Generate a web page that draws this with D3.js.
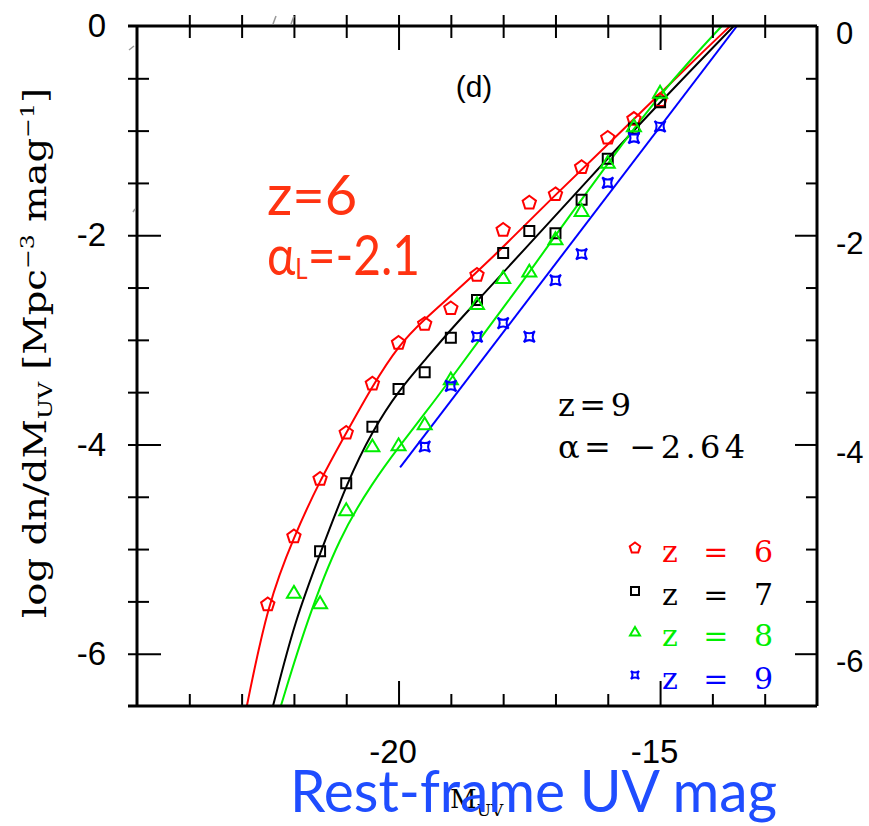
<!DOCTYPE html>
<html>
<head>
<meta charset="utf-8">
<script src="https://cdn.jsdelivr.net/npm/d3@7"></script>
<style>
body { margin: 0; background: #fff; }
svg { display: block; }
</style>
</head>
<body>
<div id="chart"></div>
<script>
// observed points: M_UV and log dn/dM_UV
var mag6 = [-22.5,-22,-21.5,-21,-20.5,-20,-19.5,-19,-18.5,-18,-17.5,-17,-16.5,-16,-15.5,-15];
var phi6 = [-5.53,-4.88,-4.33,-3.89,-3.42,-3.03,-2.85,-2.70,-2.38,-1.95,-1.69,-1.61,-1.35,-1.07,-0.89,-0.71];
var mag7 = [-21.5,-21,-20.5,-20,-19.5,-19,-18.5,-18,-17.5,-17,-16.5,-16,-15.5,-15];
var phi7 = [-5.02,-4.37,-3.83,-3.47,-3.31,-2.98,-2.62,-2.17,-1.96,-1.98,-1.66,-1.27,-0.98,-0.73];
var mag8 = [-22,-21.5,-21,-20.5,-20,-19.5,-19,-18.5,-18,-17.5,-17,-16.5,-16,-15.5,-15];
var phi8 = [-5.42,-5.52,-4.63,-4.02,-4.01,-3.81,-3.38,-2.66,-2.41,-2.35,-2.04,-1.77,-1.31,-0.96,-0.64];
var mag9 = [-19.5,-19,-18.5,-18,-17.5,-17,-16.5,-16,-15.5,-15];
var phi9 = [-4.02,-3.44,-2.97,-2.84,-2.97,-2.43,-2.18,-1.50,-1.07,-0.96];

// fitted curves
var fit6 = [[-22.9,-6.5],[-22.5,-5.52],[-22.0,-4.88],[-21.5,-4.34],[-21.0,-3.89],[-20.5,-3.44],[-20.0,-3.05],[-19.5,-2.80],[-19.0,-2.58],[-18.25,-2.24],[-17.0,-1.61],[-15.7,-0.99],[-14.4,-0.35],[-13.66,0]];
var fit7 = [[-22.4,-6.5],[-21.98,-5.68],[-21.48,-5.02],[-20.99,-4.37],[-20.49,-3.86],[-19.99,-3.48],[-19.49,-3.19],[-18.98,-2.89],[-18.5,-2.63],[-17.62,-2.15],[-16.34,-1.45],[-15.06,-0.76],[-13.59,0]];
var fit8 = [[-22.25,-6.5],[-21.75,-5.68],[-21.12,-4.87],[-20.49,-4.36],[-19.99,-4.02],[-19.49,-3.70],[-18.98,-3.36],[-18.44,-2.99],[-17.62,-2.44],[-16.97,-1.98],[-16.34,-1.55],[-15.67,-1.09],[-15.0,-0.66],[-14.43,-0.33],[-13.82,0]];
var fit9 = [[-19.97,-4.22],[-13.53,0]];

var redshifts = ["6", "7", "8", "9"];
var colors = ["#ff0000", "#000000", "#00ee00", "#0000ff"];
var shapes = ["pentagon", "square", "triangle", "star"];

// ticks
var yLabels = [0, -2, -4, -6];
var xLabels = [-20, -15];
var yMinor = d3.range(-6, 0, 0.5).filter(function(d){ return yLabels.indexOf(d) < 0; });
var xMinor = d3.range(-24, -12).filter(function(d){ return xLabels.indexOf(d) < 0; });

var width = 869, height = 826;

var svg = d3.select("#chart").append("svg")
    .attr("width", width)
    .attr("height", height);

var x = d3.scaleLinear().domain([-25, -12]).range([137, 817]);
var y = d3.scaleLinear().domain([-6.5, 0]).range([706, 26]);

// marker shapes
function shapePath(kind, r) {
  if (kind == "pentagon") {
    var pts = d3.range(5).map(function(i){
      var a = -Math.PI / 2 + i * 2 * Math.PI / 5;
      return [r * Math.cos(a), r * Math.sin(a)];
    });
    return "M" + pts.join("L") + "Z";
  }
  if (kind == "square") {
    return "M" + (-r) + "," + (-r) + "H" + r + "V" + r + "H" + (-r) + "Z";
  }
  if (kind == "triangle") {
    var h = r * 1.7;
    return "M0," + (-h * 0.6) + "L" + r + "," + (h * 0.4) + "L" + (-r) + "," + (h * 0.4) + "Z";
  }
  // concave four-corner star
  var c = r * 0.25;
  return "M" + (-r) + "," + (-r) + "Q0," + (-c) + " " + r + "," + (-r) +
         "Q" + c + ",0 " + r + "," + r +
         "Q0," + c + " " + (-r) + "," + r +
         "Q" + (-c) + ",0 " + (-r) + "," + (-r) + "Z";
}

// clip
svg.append("clipPath").attr("id", "plotclip")
  .append("rect")
    .attr("x", x(-25)).attr("y", y(0))
    .attr("width", x(-12) - x(-25))
    .attr("height", y(-6.5) - y(0));

var line = d3.line()
    .x(function(d){ return x(d[0]); })
    .y(function(d){ return y(d[1]); })
    .curve(d3.curveBasis);

var plot = svg.append("g").attr("clip-path", "url(#plotclip)");

[fit6, fit7, fit8, fit9].forEach(function(f, i){
  plot.append("path")
    .attr("d", line(f))
    .style("fill", "none")
    .style("stroke", colors[i])
    .style("stroke-width", 2);
});

// data points
var sets = [[mag6, phi6], [mag7, phi7], [mag8, phi8], [mag9, phi9]];
var sizes = [7, 5, 7, 5.5];
sets.forEach(function(s, i){
  plot.selectAll(".pt" + i)
    .data(s[0])
    .enter().append("path")
      .attr("class", "pt" + i)
      .attr("d", shapePath(shapes[i], sizes[i]))
      .attr("transform", function(d, j){ return "translate(" + x(d) + "," + y(s[1][j]) + ")"; })
      .style("fill", "none")
      .style("stroke", colors[i])
      .style("stroke-width", 2);
});

// frame
var frame = svg.append("g").style("stroke", "#000").style("stroke-width", 3);
frame.append("line").attr("x1", 128).attr("x2", x(-12)).attr("y1", y(0)).attr("y2", y(0));
frame.append("line").attr("x1", 128).attr("x2", x(-12)).attr("y1", y(-6.5)).attr("y2", y(-6.5));
frame.append("line").attr("x1", x(-25)).attr("x2", x(-25)).attr("y1", y(0)).attr("y2", y(-6.5));
frame.append("line").attr("x1", x(-12)).attr("x2", x(-12)).attr("y1", y(0)).attr("y2", y(-6.5));

function ticks(g) {
  g.select(".domain").remove();
  g.selectAll(".tick line").style("stroke", "#000").style("stroke-width", 2);
}

// left ticks cross the axis
svg.append("g").attr("transform", "translate(128,0)")
  .call(d3.axisRight(y).tickValues(yMinor).tickSize(21).tickFormat(""))
  .call(ticks);
svg.append("g").attr("transform", "translate(128,0)")
  .call(d3.axisRight(y).tickValues(yLabels.slice(1)).tickSize(33).tickFormat(""))
  .call(ticks);
// right ticks
svg.append("g").attr("transform", "translate(817,0)")
  .call(d3.axisLeft(y).tickValues(yMinor).tickSize(11).tickFormat(""))
  .call(ticks);
svg.append("g").attr("transform", "translate(817,0)")
  .call(d3.axisLeft(y).tickValues(yLabels.slice(1)).tickSize(22).tickFormat(""))
  .call(ticks);
// top ticks
svg.append("g").attr("transform", "translate(0,15)")
  .call(d3.axisBottom(x).tickValues(xMinor).tickSize(23).tickFormat(""))
  .call(ticks);
svg.append("g").attr("transform", "translate(0,15)")
  .call(d3.axisBottom(x).tickValues(xLabels).tickSize(35).tickFormat(""))
  .call(ticks);
// bottom ticks
svg.append("g").attr("transform", "translate(0,706)")
  .call(d3.axisTop(x).tickValues(xMinor).tickSize(12).tickFormat(""))
  .call(ticks);
svg.append("g").attr("transform", "translate(0,706)")
  .call(d3.axisTop(x).tickValues(xLabels).tickSize(25).tickFormat(""))
  .call(ticks);

// faint scan marks
var marks = svg.append("g").style("stroke", "#999").style("stroke-width", 1.5);
marks.append("line").attr("x1", 273).attr("y1", 24).attr("x2", 276).attr("y2", 16);
marks.append("line").attr("x1", 291).attr("y1", 24).attr("x2", 294).attr("y2", 16);
marks.append("line").attr("x1", 129).attr("y1", 50).attr("x2", 134).attr("y2", 46);
marks.append("line").attr("x1", 133).attr("y1", 212).attr("x2", 135).attr("y2", 209);

// tick labels
function labels(g, size) {
  g.select(".domain").remove();
  g.selectAll(".tick line").remove();
  g.selectAll("text")
    .style("font-family", "'Liberation Sans', Arial, sans-serif")
    .style("font-size", size + "px")
    .style("fill", "#000");
}
svg.append("g").attr("transform", "translate(137,0)")
  .call(d3.axisLeft(y).tickValues(yLabels).tickSize(0).tickPadding(31).tickFormat(function(d){ return String(d); }))
  .call(labels, 33);
svg.append("g").attr("transform", "translate(817,8)")
  .call(d3.axisRight(y).tickValues(yLabels).tickSize(0).tickPadding(19).tickFormat(function(d){ return String(d); }))
  .call(labels, 31);
svg.append("g").attr("transform", "translate(-6,706)")
  .call(d3.axisBottom(x).tickValues(xLabels).tickSize(0).tickPadding(34).tickFormat(function(d){ return String(d); }))
  .call(labels, 33);

// panel letter
svg.append("text")
  .attr("x", 474).attr("y", 97)
  .attr("text-anchor", "middle")
  .text("(d)")
  .style("font-family", "'Liberation Sans', Arial, sans-serif")
  .style("font-size", "30px");

// red annotation
svg.append("text")
  .attr("x", 267).attr("y", 215)
  .text("z=6")
  .style("font-family", "Lato, sans-serif")
  .style("font-size", "56px")
  .style("fill", "#ff3311");
var al = svg.append("text")
  .attr("x", 267).attr("y", 275)
  .attr("textLength", 153).attr("lengthAdjust", "spacingAndGlyphs")
  .style("font-family", "Lato, sans-serif")
  .style("font-size", "56px")
  .style("fill", "#ff3311");
al.append("tspan").text("α");
al.append("tspan").attr("dy", 4).style("font-size", "28px").text("L");
al.append("tspan").attr("dy", -4).text("=-2.1");

// z=9 slope note
svg.append("text")
  .attr("x", 558).attr("y", 416)
  .attr("textLength", 73).attr("lengthAdjust", "spacing")
  .text("z=9")
  .style("font-family", "'DejaVu Serif', serif")
  .style("font-size", "32px");
svg.append("text")
  .attr("x", 558).attr("y", 458)
  .attr("textLength", 187).attr("lengthAdjust", "spacing")
  .text("α= −2.64")
  .style("font-family", "'DejaVu Serif', serif")
  .style("font-size", "32px");

// legend
var legendY = [548, 591, 632, 675];
var legendSize = [5.5, 4, 5, 4];
redshifts.forEach(function(z, i){
  svg.append("path")
    .attr("d", shapePath(shapes[i], legendSize[i]))
    .attr("transform", "translate(635," + legendY[i] + ")")
    .style("fill", "none")
    .style("stroke", colors[i])
    .style("stroke-width", 2);
  svg.append("text")
    .attr("x", 662).attr("y", legendY[i] + 14)
    .attr("textLength", 111).attr("lengthAdjust", "spacing")
    .text("z = " + z)
    .style("font-family", "'DejaVu Serif', serif")
    .style("font-size", "30px")
    .style("fill", colors[i]);
});

// y axis title
var yt = svg.append("text")
  .attr("transform", "translate(46,353) rotate(-90)")
  .attr("text-anchor", "middle")
  .attr("textLength", 530).attr("lengthAdjust", "spacingAndGlyphs")
  .style("font-family", "'DejaVu Serif', serif")
  .style("font-size", "31px");
yt.append("tspan").text("log dn/dM");
yt.append("tspan").attr("dy", 6).style("font-size", "19px").text("UV");
yt.append("tspan").attr("dy", -6).text("  [Mpc");
yt.append("tspan").attr("dy", -12).style("font-size", "19px").text("−3");
yt.append("tspan").attr("dy", 12).text("  mag");
yt.append("tspan").attr("dy", -12).style("font-size", "19px").text("−1");
yt.append("tspan").attr("dy", 12).text("]");

// x axis title
var xt = svg.append("text")
  .attr("x", 450).attr("y", 808)
  .style("font-family", "'DejaVu Serif', serif")
  .style("font-size", "26px");
xt.append("tspan").text("M");
xt.append("tspan").attr("dy", 8).style("font-size", "17px").text("UV");

svg.append("text")
  .attr("x", 290).attr("y", 812)
  .attr("textLength", 487).attr("lengthAdjust", "spacingAndGlyphs")
  .text("Rest-frame UV mag")
  .style("font-family", "Lato, sans-serif")
  .style("font-size", "58px")
  .style("fill", "#1f4dff");
</script>
</body>
</html>
